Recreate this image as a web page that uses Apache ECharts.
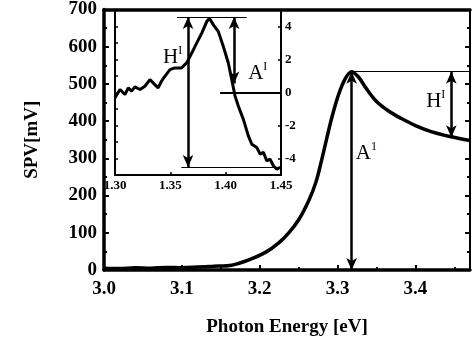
<!DOCTYPE html>
<html><head><meta charset="utf-8">
<script src="https://cdn.jsdelivr.net/npm/echarts@6/dist/echarts.min.js"></script>
<style>html,body{margin:0;padding:0;background:#fff}#c{width:474px;height:361px}</style>
</head><body><div id="c"></div>
<script>
// Main spectrum (Photon energy eV, SPV mV)
const mainX = [3.000,3.020,3.040,3.060,3.080,3.100,3.120,3.140,3.164,3.186,3.208,3.224,3.237,3.250,3.263,3.272,3.280,3.292,3.301,3.310,3.318,3.327,3.336,3.349,3.365,3.382,3.400,3.420,3.446,3.470];
const mainY = [5,4,6,5,7,6,8,10,13,27,48,72,99,135,187,235,300,405,470,515,533,518,490,455,428,407,388,372,358,348];
// Inset spectrum
const insetX = [1.300,1.3045,1.309,1.312,1.315,1.318,1.3226,1.327,1.3316,1.336,1.339,1.342,1.345,1.3497,1.354,1.360,1.3648,1.3693,1.3738,1.3784,1.3829,1.3853,1.3889,1.3934,1.3979,1.4024,1.4055,1.4085,1.4115,1.416,1.4205,1.4236,1.4281,1.4311,1.4341,1.4371,1.4401,1.4431,1.4462,1.4492];
const insetY = [-0.32,0.18,-0.12,0.28,0.08,0.34,0.18,0.38,0.78,0.48,0.28,0.68,0.98,1.39,1.49,1.49,1.79,2.39,2.99,3.60,4.30,4.50,4.10,3.69,2.79,1.79,0.78,-0.22,-0.83,-1.63,-2.63,-3.13,-3.33,-3.73,-3.63,-4.14,-4.04,-4.44,-4.64,-4.54];
// Annotation values
const mainPeak = [3.318, 533];
const mainRightX = 3.47;
const mainHArrowX = 3.446, mainHBottom = 357;
const mainALabel = [3.337, 312];
const mainHLabel = [3.426, 453];
const insetTop = 4.58, insetBottom = -4.52;
const insetTopLineX = [1.356, 1.419];
const insetBottomLineX = [1.360, 1.445];
const insetHArrowX = 1.366, insetAArrowX = 1.4076, insetABottom = 0.55;
const insetZeroLineX = [1.395, 1.45];
const insetHLabel = [1.352, 2.1];
const insetALabel = [1.429, 1.15];
const mainXLabels = ['3.0','3.1','3.2','3.3','3.4'];
const mainYLabels = [0,100,200,300,400,500,600,700];
const insetXLabels = ['1.30','1.35','1.40','1.45'];
const insetYLabels = [-4,-2,0,2,4];

const serif = '"Liberation Serif","DejaVu Serif",serif';
const zip = (a,b)=>a.map((v,i)=>[v,b[i]]);
const seg = (p1,p2,s1,s2,w)=>[{coord:p1,symbol:s1,lineStyle:{width:w}},{coord:p2,symbol:s2}];

const chart = echarts.init(document.getElementById('c'), null, {renderer:'canvas'});
const tickStyle = {color:'#000', width:2};
const lbl = (txt, sup)=>({
  show:true, position:'inside', color:'#000', textBorderWidth:0,
  formatter: '{a|'+txt+'}{s|'+sup+'}',
  rich:{a:{fontFamily:serif,fontSize:21,color:'#000',textBorderWidth:0},
        s:{fontFamily:serif,fontSize:12,color:'#000',textBorderWidth:0,padding:[0,0,14,0]}}
});
chart.setOption({
  animation:false,
  backgroundColor:'#fff',
  grid:[
    {left:104, top:8, right:4, bottom:91, show:false},
    {left:115, top:10, right:193, bottom:186, show:false}
  ],
  xAxis:[
    {gridIndex:0, type:'value', min:3.0, max:3.47, interval:0.1,
     axisLine:{onZero:false,lineStyle:{color:'#000',width:3.5}}, splitLine:{show:false},
     axisTick:{inside:true,length:5,lineStyle:tickStyle},
     minorTick:{show:true,splitNumber:2,length:3,lineStyle:tickStyle},
     axisLabel:{showMaxLabel:false, margin:10, fontFamily:serif, fontWeight:'bold', fontSize:19, color:'#000',
       formatter:v=>{const s=v.toFixed(1); return mainXLabels.includes(s)&&Math.abs(v*10-Math.round(v*10))<1e-6?s:'';}},
     name:'Photon Energy [eV]', nameLocation:'middle', nameGap:48,
     nameTextStyle:{fontFamily:serif,fontWeight:'bold',fontSize:19,color:'#000'}},
    {gridIndex:0, type:'value', position:'top', min:3.0, max:3.47,
     axisLine:{onZero:false,lineStyle:{color:'#000',width:3.5}}, axisTick:{show:false}, axisLabel:{show:false}, splitLine:{show:false}},
    {gridIndex:1, type:'value', min:1.30, max:1.45, interval:0.05,
     axisLine:{onZero:false,lineStyle:{color:'#000',width:2}}, splitLine:{show:false},
     axisTick:{inside:true,length:3,lineStyle:{color:'#000',width:1.5}},
     axisLabel:{margin:4, fontFamily:serif, fontWeight:'bold', fontSize:13, color:'#000',
       formatter:v=>{const s=v.toFixed(2); return insetXLabels.includes(s)?s:'';}}},
    {gridIndex:1, type:'value', position:'top', min:1.30, max:1.45,
     axisLine:{onZero:false,lineStyle:{color:'#000',width:2}}, axisTick:{show:false}, axisLabel:{show:false}, splitLine:{show:false}}
  ],
  yAxis:[
    {gridIndex:0, type:'value', min:0, max:700, interval:100,
     axisLine:{show:true,onZero:false,lineStyle:{color:'#000',width:3.5}}, splitLine:{show:false},
     axisTick:{show:true,inside:true,length:5,lineStyle:tickStyle},
     minorTick:{show:true,splitNumber:2,length:3,lineStyle:tickStyle},
     axisLabel:{margin:7, fontFamily:serif, fontWeight:'bold', fontSize:19, color:'#000',
       formatter:v=>mainYLabels.includes(v)?String(v):''},
     name:'SPV[mV]', nameLocation:'middle', nameGap:62,
     nameTextStyle:{fontFamily:serif,fontWeight:'bold',fontSize:19,color:'#000'}},
    {gridIndex:0, type:'value', position:'right', min:0, max:700, interval:100,
     axisLine:{show:true,onZero:false,lineStyle:{color:'#000',width:2}}, splitLine:{show:false},
     axisTick:{show:true,inside:true,length:5,lineStyle:tickStyle},
     minorTick:{show:true,splitNumber:2,length:3,lineStyle:tickStyle},
     axisLabel:{show:false}},
    {gridIndex:1, type:'value', position:'right', min:-5, max:5,
     axisLine:{show:true,onZero:false,lineStyle:{color:'#000',width:2}}, splitLine:{show:false},
     axisTick:{show:true,inside:true,length:3,lineStyle:{color:'#000',width:1.5},customValues:insetYLabels},
     axisLabel:{margin:4, fontFamily:serif, fontWeight:'bold', fontSize:13, color:'#000', customValues:insetYLabels}},
    {gridIndex:1, type:'value', position:'left', min:-5, max:5, interval:1,
     axisLine:{show:true,onZero:false,lineStyle:{color:'#000',width:2}}, splitLine:{show:false},
     axisTick:{show:true,inside:true,length:3,lineStyle:{color:'#000',width:1.5}},
     axisLabel:{show:false}}
  ],
  series:[
    {type:'line', xAxisIndex:0, yAxisIndex:0, data:zip(mainX,mainY), showSymbol:false, smooth:0.35,
     lineStyle:{color:'#000',width:3.5}, silent:true,
     markLine:{silent:true, symbolSize:[8,12], label:{show:false}, lineStyle:{color:'#000',type:'solid'},
       data:[
         seg([mainPeak[0],mainPeak[1]],[mainRightX,mainPeak[1]],'none','none',1),
         seg([mainPeak[0],mainPeak[1]],[mainPeak[0],0],'arrow','arrow',2.5),
         seg([mainHArrowX,mainPeak[1]],[mainHArrowX,mainHBottom],'arrow','arrow',2.5)
       ]}},
    {type:'scatter', xAxisIndex:0, yAxisIndex:0, symbolSize:0, silent:true,
     itemStyle:{color:'#000',opacity:1},
     data:[{value:mainALabel,label:lbl('A','1')},{value:mainHLabel,label:lbl('H','I')}]},
    {type:'line', xAxisIndex:2, yAxisIndex:2, data:zip(insetX,insetY), showSymbol:false, z:10,
     lineStyle:{color:'#000',width:3}, silent:true,
     markLine:{silent:true, symbolSize:[8,12], label:{show:false}, lineStyle:{color:'#000',type:'solid'},
       data:[
         seg([insetTopLineX[0],insetTop],[insetTopLineX[1],insetTop],'none','none',1),
         seg([insetBottomLineX[0],insetBottom],[insetBottomLineX[1],insetBottom],'none','none',1),
         seg([insetZeroLineX[0],0],[insetZeroLineX[1],0],'none','none',2),
         seg([insetHArrowX,insetTop],[insetHArrowX,insetBottom],'arrow','arrow',2.5),
         seg([insetAArrowX,insetTop],[insetAArrowX,insetABottom],'arrow','arrow',2.5)
       ]}},
    {type:'scatter', xAxisIndex:2, yAxisIndex:2, symbolSize:0, silent:true, z:10,
     itemStyle:{color:'#000',opacity:1},
     data:[{value:insetHLabel,label:lbl('H','I')},{value:insetALabel,label:lbl('A','I')}]}
  ]
});
</script></body></html>
